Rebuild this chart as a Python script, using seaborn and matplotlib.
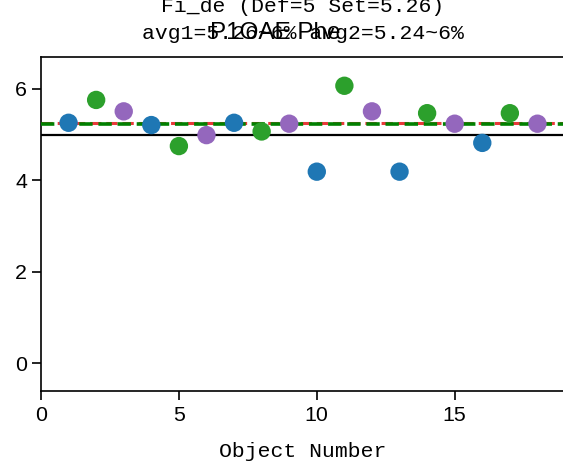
import numpy as np
import pandas as pd
import matplotlib
matplotlib.use("Agg")
import matplotlib.pyplot as plt
import seaborn as sns

# data
obj_num = list(range(1, 19))
values = [5.26, 5.76, 5.51, 5.21, 4.75, 4.99, 5.26, 5.07, 5.24,
          4.19, 6.07, 5.51, 4.19, 5.47, 5.24, 4.82, 5.47, 5.24]
groups = ["g1", "g2", "g3"] * 6
group_colors = {"g1": "#1f77b4", "g2": "#2ca02c", "g3": "#9467bd"}

setpoint = 5
avg1 = 5.26
avg2 = 5.24
title_lines = ["Fi_de (Def=5 Set=5.26)", "avg1=5.26~6% avg2=5.24~6%"]
sup_text = "P1OAE Phe"

df = pd.DataFrame({"obj": obj_num, "val": values, "grp": groups})

mono = "Liberation Mono"
sans = "Liberation Sans"
fs = 15.4

fig = plt.figure(figsize=(5.63, 4.66), dpi=100)
ax = fig.add_axes([0.0728, 0.161, 0.9308, 0.7167])

ax.axhline(setpoint, color="black", lw=1.6, zorder=1)
ax.axhline(avg1, color="#e8393a", lw=2.2, ls="--", zorder=2)
ax.axhline(avg2, color="green", lw=2.6, ls="--", zorder=3)

sns.scatterplot(data=df, x="obj", y="val", hue="grp", palette=group_colors,
                s=175, edgecolor="none", legend=False, ax=ax, zorder=4)

ax.set_xlim(0, 19)
ax.set_ylim(-0.61, 6.7)
ax.set_xticks([0, 5, 10, 15])
ax.set_yticks([0, 2, 4, 6])
ax.tick_params(length=6.5, width=1.2, labelsize=fs)
ax.tick_params(axis="x", pad=4.5)
for lab in ax.get_xticklabels() + ax.get_yticklabels():
    lab.set_fontfamily(sans)
for sp in ax.spines.values():
    sp.set_linewidth(1.2)

ax.set_xlabel("Object Number", fontfamily=mono, fontsize=fs, labelpad=12)
ax.set_ylabel("")
ax.set_title("\n".join(title_lines), fontfamily=mono, fontsize=fs, pad=13,
             linespacing=1.55)
fig.text(0.489, 0.93, sup_text, ha="center", va="center",
         fontfamily=sans, fontsize=17.5)

fig.savefig("out.png", dpi=100)
